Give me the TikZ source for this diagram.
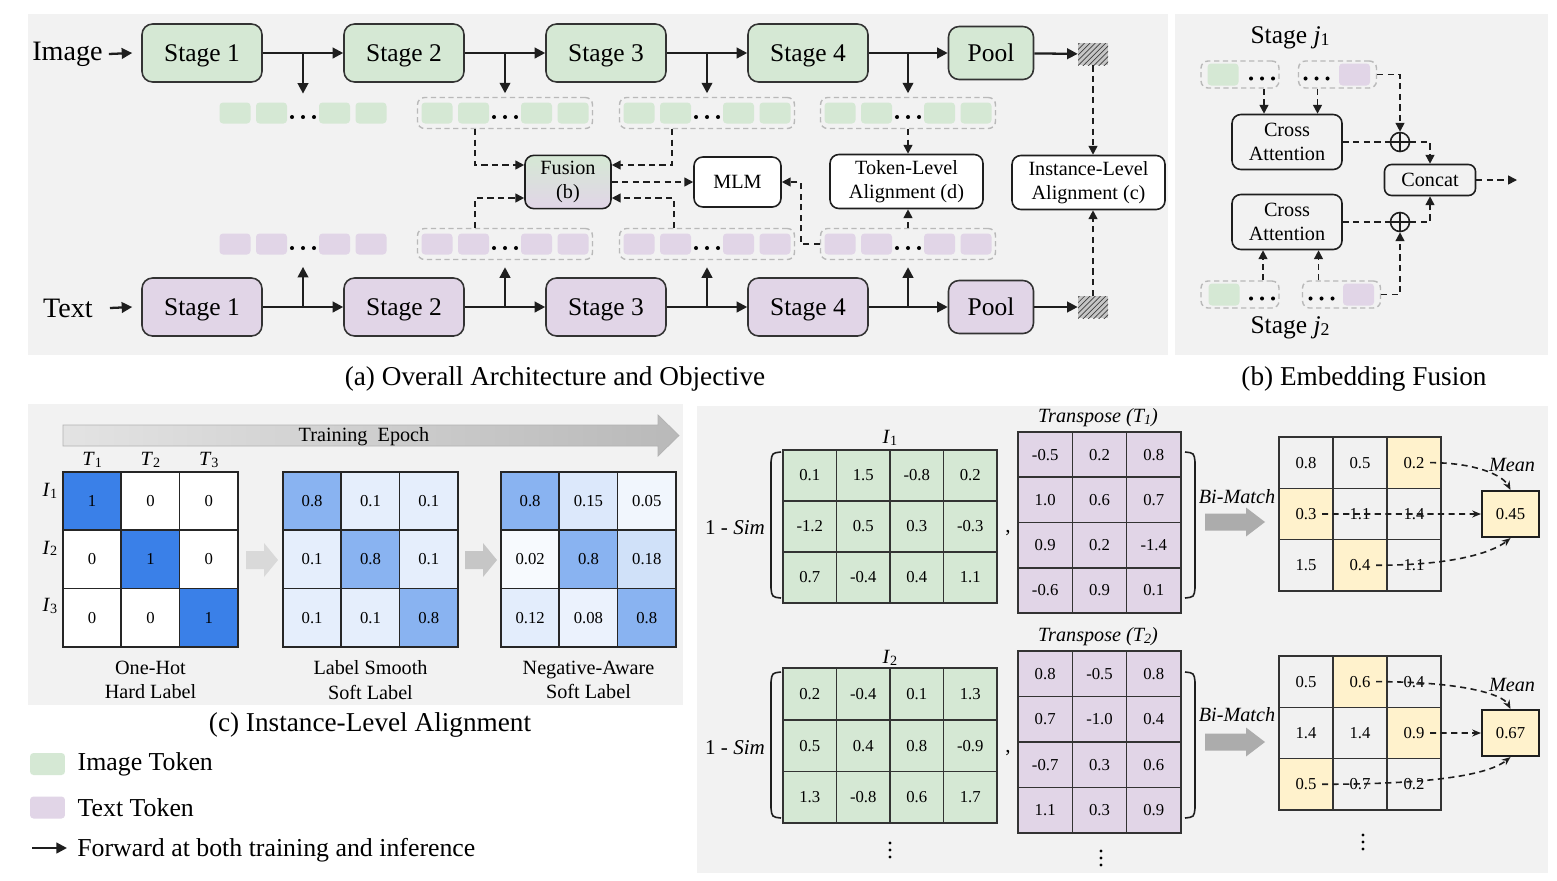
\documentclass[tikz,border=0pt]{standalone}
\usepackage{fontspec}
\setmainfont{Liberation Serif}
\usepackage{graphicx}
\usetikzlibrary{positioning,calc,arrows.meta,patterns}

\definecolor{panelbg}{RGB}{242,242,242}
\definecolor{imgc}{RGB}{213,232,212}
\definecolor{txtc}{RGB}{225,213,231}
\definecolor{cblue}{RGB}{58,128,232}
\definecolor{hly}{RGB}{255,242,204}
\definecolor{cellg}{RGB}{241,241,241}
\definecolor{ink}{RGB}{30,30,30}

\newcommand{\sbs}[1]{\raisebox{-0.15ex}{\scalebox{0.7}{#1}}}
\newcommand{\tokrow}[2]{%
  \foreach \dx in {-68,-31.5,31.5,68}
    \fill[#2,rounded corners=2pt] ($(#1)+(\dx,0)+(-15.5,-10.5)$) rectangle ++(31,21);
  \foreach \k in {-11,0,11}
    \fill[black] ($(#1)+(\k,4)$) circle (1.15pt);}
\newcommand{\fustok}[4]{%
  \fill[#2,rounded corners=2pt] ($(#1)+(#3,0)+(-15.5,-11)$) rectangle ++(31,22);
  \foreach \k in {-11,0,11}
    \fill[black] ($(#1)+(#4+\k,4)$) circle (1.15pt);}
\newcommand{\vdotsat}[1]{%
  \foreach \k in {-7,0,7}
    \fill[black] ($(#1)+(0,\k)$) circle (0.9pt);}
\newcommand{\labmat}[3]{%
  \foreach \row [count=\i] in {#3}
    \foreach \v/\p [count=\j] in \row
      \node[lcell,fill=cblue!\p!white] (#1-\i-\j) at (#2+58.3*\j-29.15,472+58.3*\i-29.15) {\v};}
\newcommand{\valmat}[7]{%
  \foreach \row [count=\i] in {#7}
    \foreach \v [count=\j] in \row
      \node[vcell,fill=#6,minimum width=#4*0.02cm,minimum height=#5*0.02cm] (#1-\i-\j) at (#2+#4*\j-#4/2,#3+#5*\i-#5/2) {\v};}
\newcommand{\bimat}[3]{%
  \foreach \row [count=\i] in {#3}
    \foreach \v/\f [count=\j] in \row
      \node[vcell,fill=\f,minimum width=1.08cm,minimum height=1.026cm] (#1-\i-\j) at (1279+54*\j-27,#2+51.3*\i-25.65) {\v};}

\begin{document}
\begin{tikzpicture}[x=0.02cm,y=-0.02cm,
  fwd/.style={draw=ink,line width=1.3pt,-{Triangle[length=6pt,width=6pt]}},
  dsh/.style={draw=ink,line width=0.9pt,dash pattern=on 3.5pt off 2.5pt,-{Triangle[length=5pt,width=5pt]}},
  dshline/.style={draw=ink,line width=0.9pt,dash pattern=on 3.5pt off 2.5pt},
  tip/.style={draw=ink,line width=0.9pt,dash pattern=on 3.5pt off 2.5pt,-{Stealth[length=5pt,width=4pt]}},
  f16/.style={font=\fontsize{16}{19}\selectfont},
  f145/.style={font=\fontsize{14.5}{17}\selectfont},
  f12/.style={font=\fontsize{12}{14}\selectfont},
  f115/.style={font=\fontsize{11.5}{14}\selectfont,align=center},
  lgtext/.style={font=\fontsize{14.7}{17}\selectfont,inner sep=0pt},
  captxt/.style={font=\fontsize{15.5}{18}\selectfont},
  stagebox/.style={draw=black!80,line width=0.9pt,rounded corners=6pt,minimum width=2.4cm,minimum height=1.16cm,text depth=0pt,font=\fontsize{14.5}{17}\selectfont},
  poolbox/.style={stagebox,minimum width=1.7cm,minimum height=1.06cm},
  hatchbox/.style={minimum width=0.6cm,minimum height=0.44cm,inner sep=0pt,fill=gray!45,postaction={pattern=north east lines,pattern color=black!75}},
  taskbox/.style={draw=ink,line width=0.9pt,rounded corners=5pt,minimum height=1cm,align=center,font=\fontsize{11.5}{13.6}\selectfont},
  grp/.style={minimum width=3.5cm,minimum height=0.62cm,inner sep=0pt},
  dgrpline/.style={draw=gray!55,line width=0.8pt,dash pattern=on 3pt off 2pt,rounded corners=4pt},
  fgrp/.style={dgrpline,minimum width=1.56cm,minimum height=0.54cm,inner sep=0pt},
  oplus/.style={circle,draw=ink,line width=0.9pt,minimum size=0.38cm,inner sep=0pt,path picture={\draw[ink,line width=0.9pt] (path picture bounding box.north) -- (path picture bounding box.south) (path picture bounding box.west) -- (path picture bounding box.east);}},
  lcell/.style={draw=black!85,line width=1pt,minimum size=1.166cm,inner sep=0pt,font=\fontsize{9.5}{11}\selectfont},
  vcell/.style={draw=black!80,line width=0.9pt,inner sep=0pt,font=\fontsize{9.5}{11}\selectfont}]
\fill[white] (0,0) rectangle (1557,880);
\fill[panelbg] (28,14) rectangle (1168,355);
\fill[panelbg] (1175,14) rectangle (1548,355);
\fill[panelbg] (28,404) rectangle (683,705);
\fill[panelbg] (697,406) rectangle (1548,873);

\node[f16] (imgin) at (67.5,54) {Image};
\node[f16] (txtin) at (68,308) {Text};
\foreach \i in {1,...,4} {
  \node[stagebox,fill=imgc] (is\i) at (202*\i,53) {Stage \i};
  \node[stagebox,fill=txtc] (ts\i) at (202*\i,307) {Stage \i};
}
\node[poolbox,fill=imgc] (ipool) at (991,53) {Pool};
\node[poolbox,fill=txtc] (tpool) at (991,307) {Pool};
\node[hatchbox] (ihat) at (1093,54) {};
\node[hatchbox] (that) at (1093,307) {};
\node[grp] (ig1) at (303,113) {};
\node[grp] (tg1) at (303,244) {};
\foreach \x [count=\i from 2] in {505,707,908} {
  \node[grp,dgrpline] (ig\i) at (\x,113) {};
  \node[grp,dgrpline] (tg\i) at (\x,244) {};
}
\foreach \i in {1,...,4} {
  \tokrow{ig\i}{imgc}
  \tokrow{tg\i}{txtc}
}
\draw[fwd] (imgin.east) -- ($(is1.west)+(-9,0)$);
\draw[fwd] ($(txtin.east)+(11,0)$) -- ($(ts1.west)+(-9,0)$);
\foreach \i [count=\j from 2] in {1,2,3} {
  \draw[fwd] (is\i) -- (is\j);
  \draw[fwd] (ts\i) -- (ts\j);
}
\foreach \i in {1,...,4} {
  \draw[fwd] (ig\i.north |- is\i.east) -- ([yshift=2pt]ig\i.north);
  \draw[fwd] (tg\i.south |- ts\i.east) -- ([yshift=-4pt]tg\i.south);
}
\draw[fwd] (is4) -- (ipool);
\draw[fwd] (ts4) -- (tpool);
\draw[fwd] (ipool) -- (ihat);
\draw[fwd] (tpool) -- (that);

\node[taskbox,minimum width=1.72cm,top color=imgc,bottom color=txtc] (fus) at (568,182) {Fusion\\(b)};
\node[taskbox,fill=white,minimum width=1.74cm] (mlm) at (737.5,182) {MLM};
\node[taskbox,fill=white,minimum width=3.06cm] (tla) at (906.5,181.5) {Token-Level\\Alignment (d)};
\node[taskbox,fill=white,minimum width=3.06cm] (ila) at (1088.5,182.5) {Instance-Level\\Alignment (c)};
\draw[dsh] ($(ig2.south)+(-30,0)$) |- ($(fus.west)+(0,-17)$);
\draw[dsh] ($(ig3.south)+(-35,0)$) |- ($(fus.east)+(0,-17)$);
\draw[dsh] ($(tg2.north)+(-30,0)$) |- ($(fus.west)+(0,16)$);
\draw[dsh] ($(tg3.north)+(-33,0)$) |- ($(fus.east)+(0,16)$);
\draw[dsh] (fus) -- (mlm);
\draw[dsh] (tg4.west) -- ++(-19,0) |- (mlm.east);
\draw[dsh] (ig4.south) -- (ig4.south |- tla.north);
\draw[dsh] (tg4.north) -- (tg4.north |- tla.south);
\draw[dsh] (ihat.south) -- (ihat.south |- ila.north);
\draw[dsh] (that.north) -- (that.north |- ila.south);

\node[f145] (sj1) at (1290,38) {Stage \textit{j}\sbs{1}};
\node[f145] (sj2) at (1290,328) {Stage \textit{j}\sbs{2}};
\node[fgrp] (fa) at (1240,74.5) {};
\node[fgrp] (fb) at (1337.5,74.5) {};
\node[fgrp] (fc) at (1240,294.5) {};
\node[fgrp] (fd) at (1341.5,294.5) {};
\fustok{fa}{imgc}{-17}{22}
\fustok{fb}{txtc}{17}{-21}
\fustok{fc}{imgc}{-16}{22}
\fustok{fd}{txtc}{17}{-20}
\node[taskbox,minimum width=2.2cm,minimum height=1.1cm] (ca1) at (1287,142) {Cross\\Attention};
\node[taskbox,minimum width=2.2cm,minimum height=1.1cm] (ca2) at (1287,222) {Cross\\Attention};
\node[taskbox,rounded corners=4pt,minimum width=1.82cm,minimum height=0.62cm] (cat) at (1430,180) {Concat};
\node[oplus] (op1) at (1400,142) {};
\node[oplus] (op2) at (1400,222) {};
\coordinate (fa1) at ($(fa.south)+(24,0)$);
\coordinate (fb1) at ($(fb.south)+(-20,0)$);
\coordinate (fc1) at ($(fc.north)+(23,0)$);
\coordinate (fd1) at ($(fd.north)+(-23,0)$);
\coordinate (catout) at (1517,180);
\draw[dsh] (fa1) -- (fa1 |- ca1.north);
\draw[dsh] (fb1) -- (fb1 |- ca1.north);
\draw[dsh] (fc1) -- (fc1 |- ca2.south);
\draw[dsh] (fd1) -- (fd1 |- ca2.south);
\draw[dsh] (fb.east) -| (op1.north);
\draw[dshline] (ca1.east) -- (op1.west);
\draw[dsh] (op1.east) -| (cat.north);
\draw[dsh] (fd.east) -| (op2.south);
\draw[dshline] (ca2.east) -- (op2.west);
\draw[dsh] (op2.east) -| (cat.south);
\draw[dsh] (cat.east) -- (catout);

\shadedraw[left color=gray!22,right color=gray!55,draw=gray!60,line width=0.4pt] (63,425) -- (658,425) -- (658,415) -- (679,435.5) -- (658,456) -- (658,446) -- (63,446) -- cycle;
\node[f115] (epoch) at (364,437) {Training\ \ Epoch};
\labmat{lm1}{63}{{1/100,0/0,0/0},{0/0,1/100,0/0},{0/0,0/0,1/100}}
\labmat{lm2}{283}{{0.8/60,0.1/13,0.1/13},{0.1/13,0.8/60,0.1/13},{0.1/13,0.1/13,0.8/60}}
\labmat{lm3}{501}{{0.8/60,0.15/18,0.05/7},{0.02/4,0.8/60,0.18/24},{0.12/14,0.08/10,0.8/60}}
\foreach \i in {1,2,3} {
  \node[f115] (tl\i) at (63+58.3*\i-29.15,460) {\textit{T}\sbs{\i}};
  \node[f115] (il\i) at (50,491+57.5*\i-57.5) {\textit{I}\sbs{\i}};
}
\foreach \ax/\c in {246/gray!30,465/gray!45}
  \path[fill=\c] (\ax,551) -- ++(18,0) -- ++(0,-8) -- ++(14,17) -- ++(-14,17) -- ++(0,-8) -- ++(-18,0) -- cycle;
\node[f115] (lab1) at (150.5,680) {One-Hot\\Hard Label};
\node[f115] (lab2) at (370.5,680) {Label Smooth\\Soft Label};
\node[f115] (lab3) at (588.5,680) {Negative-Aware\\Soft Label};

\valmat{gm1}{783}{450}{53.5}{51}{imgc}{{0.1,1.5,-0.8,0.2},{-1.2,0.5,0.3,-0.3},{0.7,-0.4,0.4,1.1}}
\valmat{pm1}{1018}{432}{54.3}{45.25}{txtc}{{-0.5,0.2,0.8},{1.0,0.6,0.7},{0.9,0.2,-1.4},{-0.6,0.9,0.1}}
\valmat{gm2}{783}{668}{53.5}{51.7}{imgc}{{0.2,-0.4,0.1,1.3},{0.5,0.4,0.8,-0.9},{1.3,-0.8,0.6,1.7}}
\valmat{pm2}{1018}{651}{54.3}{45.5}{txtc}{{0.8,-0.5,0.8},{0.7,-1.0,0.4},{-0.7,0.3,0.6},{1.1,0.3,0.9}}
\bimat{res1}{437}{{0.8/cellg,0.5/cellg,0.2/hly},{0.3/hly,1.1/cellg,1.4/cellg},{1.5/cellg,0.4/hly,1.1/cellg}}
\bimat{res2}{656}{{0.5/cellg,0.6/hly,0.4/cellg},{1.4/cellg,1.4/cellg,0.9/hly},{0.5/hly,0.7/cellg,0.2/cellg}}
\foreach \y in {452,672} {
  \draw[ink,line width=0.9pt] (781,\y) .. controls (772,\y+1) .. (771,\y+10) -- (771,\y+136) .. controls (772,\y+145) .. (781,\y+146);
  \draw[ink,line width=0.9pt] (1185,\y) .. controls (1194,\y+1) .. (1195,\y+10) -- (1195,\y+136) .. controls (1194,\y+145) .. (1185,\y+146);
}
\foreach \y in {522,742}
  \fill[gray!65] (1205,\y-8.5) -- (1246,\y-8.5) -- (1246,\y-14.5) -- (1265,\y) -- (1246,\y+14.5) -- (1246,\y+8.5) -- (1205,\y+8.5) -- cycle;
\node[f12] (sim1) at (735,528) {1 - \textit{Sim}};
\node[f12] (sim2) at (735,748) {1 - \textit{Sim}};
\node[f12] (cm1) at (1008,533) {,};
\node[f12] (cm2) at (1008,753) {,};
\node[f115] (il1) at (890,438) {\textit{I}\sbs{1}};
\node[f115] (il2) at (890,658) {\textit{I}\sbs{2}};
\node[f115] (tp1) at (1098,418) {\textit{Transpose (T\sbs{1})}};
\node[f115] (tp2) at (1098,637) {\textit{Transpose (T\sbs{2})}};
\node[f115] (bm1) at (1237,497) {\textit{Bi-Match}};
\node[f115] (bm2) at (1237,715) {\textit{Bi-Match}};
\node[f115] (mn1) at (1512,465) {\textit{Mean}};
\node[f115] (mn2) at (1512,685) {\textit{Mean}};
\node[draw=ink,line width=1.2pt,fill=hly,minimum width=1.14cm,minimum height=0.92cm,font=\fontsize{9.5}{11}\selectfont] (mean1) at (1510.5,514) {0.45};
\node[draw=ink,line width=1.2pt,fill=hly,minimum width=1.14cm,minimum height=0.92cm,font=\fontsize{9.5}{11}\selectfont] (mean2) at (1510.5,733) {0.67};
\draw[tip] ($(res1-1-3)+(16,0)$) .. controls +(45,0) and +(-8,-15) .. (mean1.north);
\draw[tip] ($(res1-2-1)+(16,0)$) -- (mean1.west);
\draw[tip] ($(res1-3-2)+(16,0)$) .. controls +(85,0) and +(-15,12) .. (mean1.south);
\draw[tip] ($(res2-1-2)+(16,0)$) .. controls +(85,0) and +(-8,-15) .. (mean2.north);
\draw[tip] ($(res2-2-3)+(16,0)$) -- (mean2.west);
\draw[tip] ($(res2-3-1)+(16,0)$) .. controls +(140,0) and +(-15,12) .. (mean2.south);
\coordinate (vd1) at (890,850);
\coordinate (vd2) at (1101,858);
\coordinate (vd3) at (1363,842);
\vdotsat{vd1}
\vdotsat{vd2}
\vdotsat{vd3}

\node[fill=imgc,rounded corners=2pt,minimum width=0.7cm,minimum height=0.44cm] (lgimg) at (47.5,764) {};
\node[fill=txtc,rounded corners=2pt,minimum width=0.7cm,minimum height=0.44cm] (lgtxt) at (47.5,807.5) {};
\node[lgtext,right=0.24cm of lgimg] (lgimgl) {Image Token};
\node[lgtext,right=0.24cm of lgtxt] (lgtxtl) {Text Token};
\coordinate (lgarr) at (32,848);
\coordinate (lgend) at (67,848);
\node[lgtext,anchor=west] (lgfwd) at (77,850) {Forward at both training and inference};
\draw[fwd] (lgarr) -- (lgend);

\node[captxt] (capa) at (555,379) {(a) Overall Architecture and Objective};
\node[captxt] (capb) at (1364,379) {(b) Embedding Fusion};
\node[captxt] (capc) at (370,725) {(c) Instance-Level Alignment};
\end{tikzpicture}
\end{document}
